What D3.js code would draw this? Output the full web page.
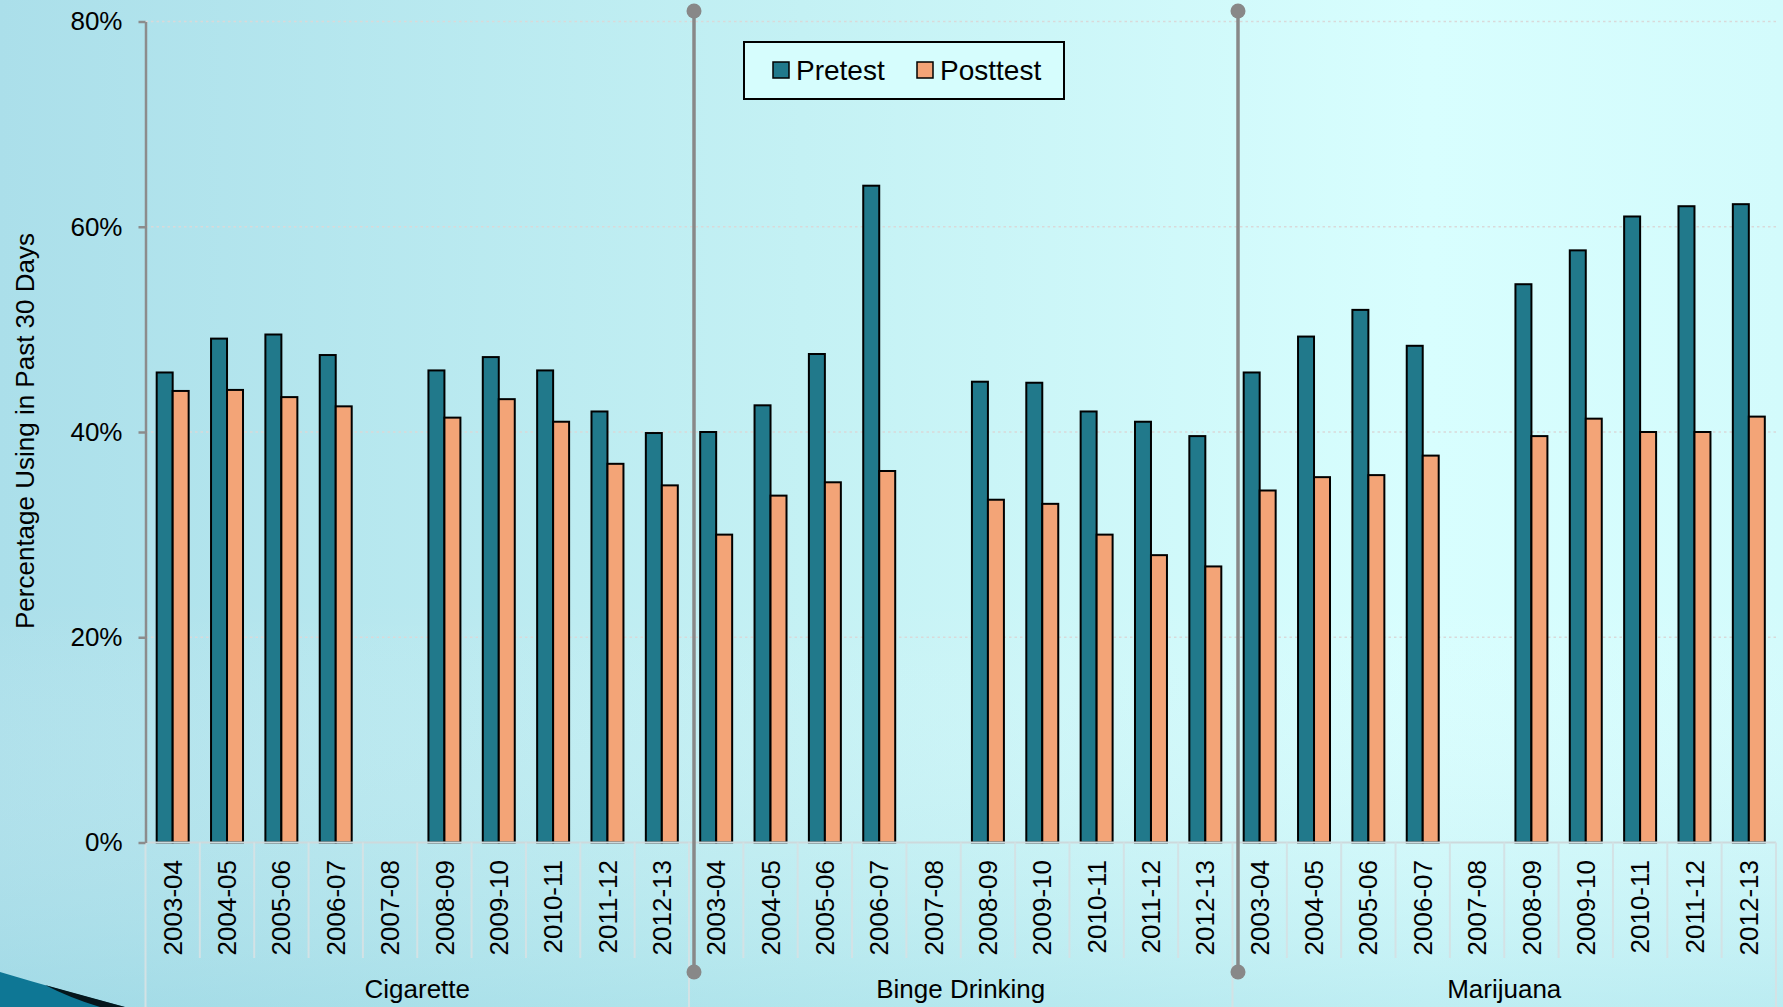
<!DOCTYPE html>
<html>
<head>
<meta charset="utf-8">
<script src="https://cdn.jsdelivr.net/npm/d3@7"></script>
<style>
  html, body { margin: 0; padding: 0; overflow: hidden; }
  svg { display: block; font-family: "Liberation Sans", Arial, sans-serif; }
</style>
</head>
<body>
<script>
// data (percent)
const groups = ["Cigarette", "Binge Drinking", "Marijuana"];
const years = ["2003-04", "2004-05", "2005-06", "2006-07", "2007-08",
               "2008-09", "2009-10", "2010-11", "2011-12", "2012-13"];
const keys = ["Pretest", "Posttest"];

const cigPre   = [45.8, 49.1, 49.5, 47.5, null, 46.0, 47.3, 46.0, 42.0, 39.9];
const cigPost  = [44.0, 44.1, 43.4, 42.5, null, 41.4, 43.2, 41.0, 36.9, 34.8];
const bingePre  = [40.0, 42.6, 47.6, 64.0, null, 44.9, 44.8, 42.0, 41.0, 39.6];
const bingePost = [30.0, 33.8, 35.1, 36.2, null, 33.4, 33.0, 30.0, 28.0, 26.9];
const marPre   = [45.8, 49.3, 51.9, 48.4, null, 54.4, 57.7, 61.0, 62.0, 62.2];
const marPost  = [34.3, 35.6, 35.8, 37.7, null, 39.6, 41.3, 40.0, 40.0, 41.5];
const yTicks = [0, 20, 40, 60, 80];

const width = 1783, height = 1007;
const margin = { top: 21.5, right: 7, bottom: 164.5, left: 145.5 };

const series = [[cigPre, cigPost], [bingePre, bingePost], [marPre, marPost]];
const rows = [];
groups.forEach((g, gi) => {
  years.forEach((y, yi) => {
    rows.push({ id: g + "|" + y, group: g, year: y,
      Pretest: series[gi][0][yi], Posttest: series[gi][1][yi] });
  });
});

const color = d3.scaleOrdinal(keys, ["#21798b", "#f3a477"]);

const svg = d3.select("body").append("svg")
  .attr("width", width).attr("height", height);

// slide background
const defs = svg.append("defs");
const grad = defs.append("linearGradient").attr("id", "bg")
  .attr("x1", "0%").attr("x2", "100%").attr("y1", "0%").attr("y2", "0%");
grad.append("stop").attr("offset", "0%").attr("stop-color", "#abdfea");
grad.append("stop").attr("offset", "45%").attr("stop-color", "#c4f1f4");
grad.append("stop").attr("offset", "80%").attr("stop-color", "#d8fefe");
grad.append("stop").attr("offset", "100%").attr("stop-color", "#d3fbfc");
svg.append("rect").attr("width", width).attr("height", height).attr("fill", "url(#bg)");

const shade = defs.append("linearGradient").attr("id", "shade")
  .attr("x1", "0%").attr("x2", "0%").attr("y1", "0%").attr("y2", "100%");
shade.append("stop").attr("offset", "0%").attr("stop-color", "#ffffff").attr("stop-opacity", 0);
shade.append("stop").attr("offset", "100%").attr("stop-color", "#8fd0de").attr("stop-opacity", 0.35);
svg.append("rect").attr("y", 600).attr("width", width).attr("height", height - 600).attr("fill", "url(#shade)");

// corner swoosh
svg.append("path")
  .attr("d", "M0,972 Q60,990 125,1007 L0,1007 Z")
  .attr("fill", "#0e7795");
svg.append("path")
  .attr("d", "M45,985 Q85,996 125,1007 L100,1007 Q70,998 45,985 Z")
  .attr("fill", "#05161c");

const xScale = d3.scaleBand()
  .domain(rows.map(d => d.id))
  .range([margin.left, width - margin.right])
  .padding(0);

const x1 = d3.scaleBand()
  .domain(keys)
  .range([0, xScale.bandwidth()])
  .paddingInner(0)
  .paddingOuter(0.7);

const yScale = d3.scaleLinear()
  .domain([0, 80])
  .range([height - margin.bottom, margin.top]);

// gridlines
svg.append("g")
  .selectAll("line")
  .data(yTicks.filter(t => t > 0))
  .join("line")
  .attr("x1", margin.left).attr("x2", width - margin.right)
  .attr("y1", d => yScale(d)).attr("y2", d => yScale(d))
  .attr("stroke", "#d9d9d9").attr("stroke-width", 1.6)
  .attr("stroke-dasharray", "2.5,3");

// bars
svg.append("g")
  .selectAll("g")
  .data(rows)
  .join("g")
  .attr("transform", d => `translate(${xScale(d.id)},0)`)
  .selectAll("rect")
  .data(d => keys.filter(k => d[k] != null).map(k => ({ key: k, value: d[k] })))
  .join("rect")
  .attr("x", d => x1(d.key))
  .attr("y", d => yScale(d.value))
  .attr("width", x1.bandwidth())
  .attr("height", d => yScale(0) - yScale(d.value))
  .attr("fill", d => color(d.key))
  .attr("stroke", "#000")
  .attr("stroke-width", 2);

// x axis: baseline, category dividers and labels
const y0 = yScale(0);
svg.append("line")
  .attr("x1", margin.left).attr("x2", width - margin.right)
  .attr("y1", y0).attr("y2", y0)
  .attr("stroke", "#cdd9dc").attr("stroke-width", 2);

const bounds = xScale.domain().map(d => xScale(d)).concat([width - margin.right]);
svg.append("g")
  .selectAll("line")
  .data(bounds)
  .join("line")
  .attr("x1", d => d).attr("x2", d => d)
  .attr("y1", y0)
  .attr("y2", (d, i) => i % years.length === 0 ? height : 958)
  .attr("stroke", "#d3e2e5").attr("stroke-width", 2);

svg.append("g")
  .selectAll("text")
  .data(rows)
  .join("text")
  .attr("transform", d => `translate(${xScale(d.id) + xScale.bandwidth() / 2},860) rotate(-90)`)
  .attr("text-anchor", "end")
  .attr("dy", "0.35em")
  .attr("font-size", 26)
  .attr("fill", "#000")
  .text(d => d.year);

svg.append("g")
  .selectAll("text")
  .data(groups)
  .join("text")
  .attr("x", g => {
    const ids = rows.filter(r => r.group === g).map(r => r.id);
    return (xScale(ids[0]) + xScale(ids[ids.length - 1]) + xScale.bandwidth()) / 2;
  })
  .attr("y", 998)
  .attr("text-anchor", "middle")
  .attr("font-size", 26)
  .text(d => d);

// y axis
const yAxis = d3.axisLeft(yScale)
  .tickValues(yTicks)
  .tickSize(7)
  .tickSizeOuter(0)
  .tickPadding(16)
  .tickFormat(d => d + "%");

svg.append("g")
  .attr("transform", `translate(${margin.left},0)`)
  .call(yAxis)
  .call(g => g.select(".domain").attr("stroke", "#8c8c8c").attr("stroke-width", 2.5))
  .call(g => g.selectAll(".tick line").attr("stroke", "#8c8c8c").attr("stroke-width", 2.5))
  .call(g => g.selectAll(".tick text")
    .attr("font-size", 26)
    .attr("font-family", "Liberation Sans, Arial, sans-serif")
    .attr("fill", "#000"));

svg.append("text")
  .attr("transform", "translate(25,431) rotate(-90)")
  .attr("text-anchor", "middle")
  .attr("dy", "0.35em")
  .attr("font-size", 26)
  .text("Percentage Using in Past 30 Days");

// group separators with round ends
const seps = [694, 1238];
const sepG = svg.append("g").selectAll("g").data(seps).join("g");
sepG.append("line")
  .attr("x1", d => d).attr("x2", d => d)
  .attr("y1", 11).attr("y2", 972)
  .attr("stroke", "#888").attr("stroke-width", 3.5);
sepG.append("circle").attr("cx", d => d).attr("cy", 11).attr("r", 7.5).attr("fill", "#888");
sepG.append("circle").attr("cx", d => d).attr("cy", 972).attr("r", 7.5).attr("fill", "#888");

// legend
const legend = svg.append("g");
legend.append("rect")
  .attr("x", 744).attr("y", 42).attr("width", 320).attr("height", 57)
  .attr("fill", "#d6fdfd").attr("stroke", "#000").attr("stroke-width", 2);
const legX = [773, 917];
const item = legend.selectAll("g").data(keys).join("g")
  .attr("transform", (d, i) => `translate(${legX[i]},62)`);
item.append("rect")
  .attr("width", 16).attr("height", 16)
  .attr("fill", d => color(d)).attr("stroke", "#000").attr("stroke-width", 1.5);
item.append("text")
  .attr("x", 23).attr("y", 18)
  .attr("font-size", 28)
  .text(d => d);
</script>
</body>
</html>
